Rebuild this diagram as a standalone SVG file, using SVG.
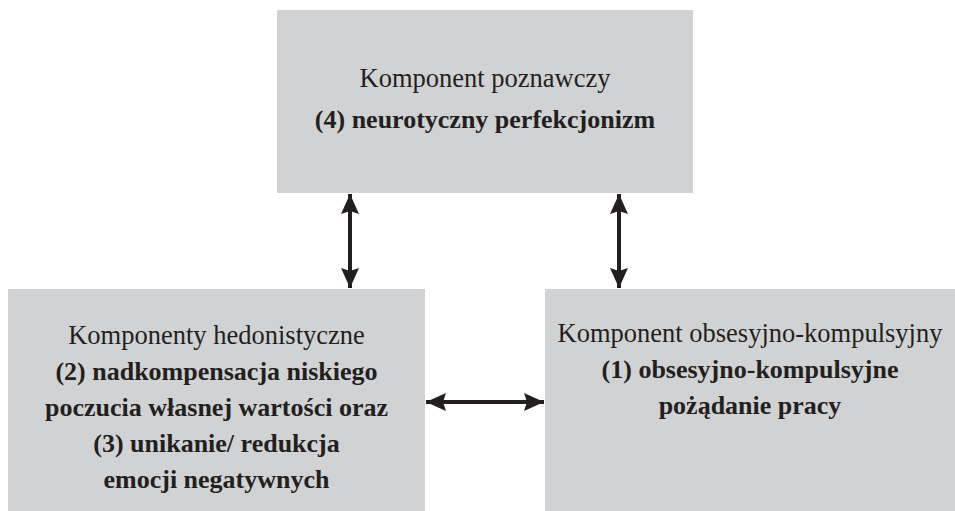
<svg xmlns="http://www.w3.org/2000/svg" width="955" height="511" viewBox="0 0 955 511">
  <style>
    .box { fill: #d1d2d4; }
    .t { font-family: "Liberation Serif", "Times New Roman", serif; font-size: 26.5px; fill: #231f20; text-anchor: middle; }
    .b { font-weight: bold; font-size: 26px; }
    .link { stroke: #231f20; stroke-width: 4; fill: none; }
  </style>
  <defs>
    <marker id="head" viewBox="0 0 20 18" refX="20" refY="9" markerWidth="20" markerHeight="18" markerUnits="userSpaceOnUse" orient="auto-start-reverse">
      <path d="M0,0 L20,9 L0,18 L3,9 Z" fill="#231f20"/>
    </marker>
  </defs>

  <g id="node-poznawczy">
    <rect class="box" x="277" y="10" width="416" height="183"/>
    <text class="t" x="485" y="87">Komponent poznawczy</text>
    <text class="t b" x="485" y="128">(4) neurotyczny perfekcjonizm</text>
  </g>

  <g id="node-hedonistyczne">
    <rect class="box" x="8" y="289" width="417" height="222"/>
    <text class="t" x="216.5" y="344">Komponenty hedonistyczne</text>
    <text class="t b" x="216.5" y="380">(2) nadkompensacja niskiego</text>
    <text class="t b" x="216.5" y="416">poczucia własnej wartości oraz</text>
    <text class="t b" x="216.5" y="452">(3) unikanie/ redukcja</text>
    <text class="t b" x="216.5" y="488">emocji negatywnych</text>
  </g>

  <g id="node-obsesyjny">
    <rect class="box" x="545" y="289" width="410" height="222"/>
    <text class="t" x="750" y="342">Komponent obsesyjno-kompulsyjny</text>
    <text class="t b" x="750" y="378">(1) obsesyjno-kompulsyjne</text>
    <text class="t b" x="750" y="414">pożądanie pracy</text>
  </g>

  <g id="connectors">
    <line class="link" x1="350" y1="194" x2="350" y2="288" marker-start="url(#head)" marker-end="url(#head)"/>
    <line class="link" x1="619" y1="194" x2="619" y2="288" marker-start="url(#head)" marker-end="url(#head)"/>
    <line class="link" x1="426" y1="402" x2="544" y2="402" marker-start="url(#head)" marker-end="url(#head)"/>
  </g>
</svg>
